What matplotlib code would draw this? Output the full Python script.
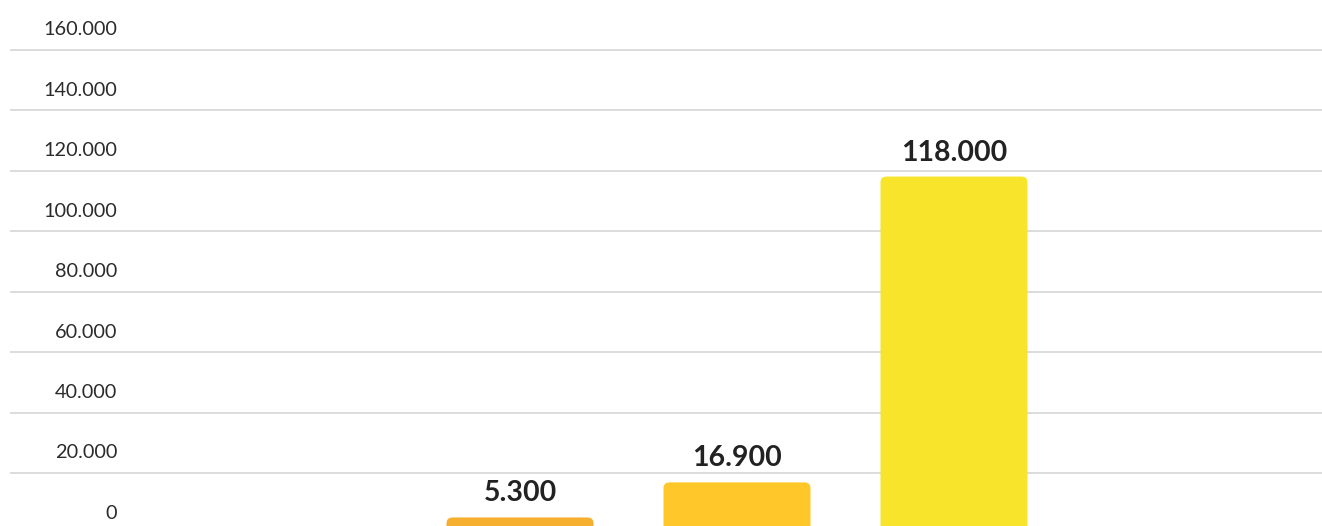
import matplotlib
matplotlib.use("Agg")
import matplotlib.pyplot as plt
from matplotlib.patches import FancyBboxPatch

# Data
bar_values = [5300, 16900, 118000]
bar_colors = ["#F6AF2E", "#FFC72A", "#F8E52B"]
y_ticks = [0, 20000, 40000, 60000, 80000, 100000, 120000, 140000, 160000]


def fmt_de(v):
    return f"{v:,.0f}".replace(",", ".")


W, H = 1322, 526
fig = plt.figure(figsize=(W / 100, H / 100), dpi=100)
ax = fig.add_axes([0, 0, 1, 1])
ax.set_axis_off()

# horizontal scale: 217 px per category, first bar centred at x=520 px
px_per_cat = 217.0
ax.set_xlim(-520 / px_per_cat, (W - 520) / px_per_cat)
# vertical scale: 60.5 px per 20.000, zero line 7.5 px below the bottom edge
units_per_px = 20000 / 60.5
ax.set_ylim(7.5 * units_per_px, (H + 7.5) * units_per_px)

# gridlines and their labels (label sits above its line)
for t in y_ticks:
    ax.axhline(t, xmin=11 / W, xmax=1.0, color="#d9d9d9", lw=1.3, zorder=1)
    ax.annotate(fmt_de(t), xy=(117 / W, t), xycoords=ax.get_yaxis_transform(),
                xytext=(0, 21.5), textcoords="offset pixels",
                ha="right", va="center_baseline", fontsize=14.3, family="Lato",
                color="#2b2b2b", annotation_clip=False)

# rounded bars
bar_w = 147 / px_per_cat
radius_px = 6
r_x = radius_px / px_per_cat
aspect = units_per_px * px_per_cat
for i, (v, c) in enumerate(zip(bar_values, bar_colors)):
    p = FancyBboxPatch((i - bar_w / 2, 0), bar_w, v,
                       boxstyle=f"round,pad=0,rounding_size={r_x}",
                       mutation_aspect=aspect, facecolor=c, edgecolor="none",
                       zorder=2)
    ax.add_patch(p)
    ax.annotate(fmt_de(v), xy=(i, v), xytext=(0, 16), textcoords="offset pixels",
                ha="center", va="baseline", fontsize=20.5, fontweight="bold",
                family="Lato", color="#222222", zorder=3)

fig.savefig("out.png", dpi=100)
